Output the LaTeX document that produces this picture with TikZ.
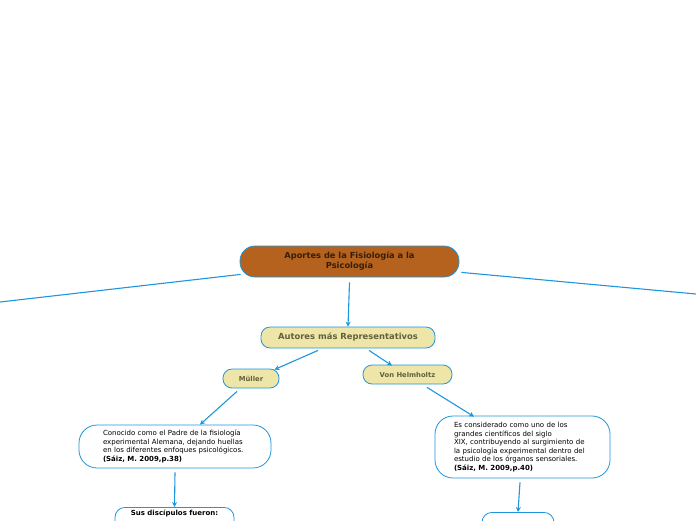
\documentclass[tikz,border=0pt]{standalone}
\usepackage{fontspec}
\setmainfont{DejaVu Sans}
\usetikzlibrary{calc,arrows.meta}
\definecolor{linkblue}{RGB}{30,150,222}
\definecolor{rootbrown}{RGB}{180,98,30}
\definecolor{roottext}{RGB}{55,30,8}
\definecolor{autorfill}{RGB}{237,230,168}
\definecolor{autortext}{RGB}{100,96,62}
\tikzset{
	link/.style={draw=linkblue,line width=1.1pt},
	arrowlink/.style={link,-{Stealth[length=5pt,width=5pt]}},
	rootbox/.style={draw=linkblue,line width=0.8pt,fill=rootbrown,rounded corners=15pt,minimum width=219pt,minimum height=31pt,text=roottext,font=\fontsize{8.3}{10}\selectfont\bfseries,align=center,inner sep=0pt},
	autorbox/.style={draw=linkblue,line width=0.8pt,fill=autorfill,rounded corners=9pt,text=autortext,inner sep=0pt},
	notebox/.style={draw=linkblue,line width=0.8pt,fill=white,rounded corners=18pt,align=left,font=\fontsize{7}{8.5}\selectfont,inner sep=0pt},
}
\begin{document}
\begin{tikzpicture}[x=1pt,y=-1pt]
				\useasboundingbox (0,0) rectangle (696,520);
				
				\node[rootbox] (root) at (349.5,261.5) {Aportes de la Fisiología a la\\Psicología};
				\coordinate (offleft) at (0,302);
				\coordinate (offright) at (696,294);
				
				\node[autorbox,minimum width=174pt,minimum height=21pt,font=\fontsize{8.4}{10}\selectfont\bfseries] (autores) at (348,337.5) {Autores más Representativos};
				\node[autorbox,minimum width=56pt,minimum height=19pt,font=\fontsize{6.8}{8}\selectfont\bfseries] (muller) at (251,378.5) {Müller};
				\node[autorbox,minimum width=89pt,minimum height=19pt,font=\fontsize{6.8}{8}\selectfont\bfseries] (helm) at (407.5,374.5) {Von Helmholtz};
				
				\node[notebox,minimum width=192pt,minimum height=43pt,text width=144pt] (conocido) at (175,446.5) {Conocido como el Padre de la fisiología\\experimental Alemana, dejando huellas\\en los diferentes enfoques psicológicos.\\\textbf{(Sáiz, M. 2009,p.38)}};
				\node[notebox,minimum width=175pt,minimum height=62pt,text width=137pt] (considerado) at (522.5,447) {Es considerado como uno de los\\grandes científicos del siglo\\XIX, contribuyendo al surgimiento de\\la psicología experimental dentro del\\estudio de los órganos sensoriales.\\\textbf{(Sáiz, M. 2009,p.40)}};
				
				\node[notebox,rounded corners=10pt,anchor=north,minimum width=119pt,minimum height=26pt,align=center,font=\fontsize{7}{8}\selectfont\bfseries] (discipulos) at (174.5,507) {Sus discípulos fueron:\\[8pt]};
				\node[notebox,rounded corners=10pt,anchor=north,minimum width=72pt,minimum height=26pt] (helmnext) at (518,512) {};
				
				% enlaces
				\draw[link] ($(root.south west)+(1,-3)$) -- (offleft);
				\draw[link] ($(root.south east)+(2,-5)$) -- (offright);
				\draw[arrowlink] ($(root.south)+(0,5)$) -- (autores.north);
				\draw[arrowlink] ($(autores.south)+(-30,2)$) -- ($(muller.north east)+(-5,1)$);
				\draw[arrowlink] ($(autores.south)+(21,2)$) -- ($(helm.north)+(-15.5,1)$);
				\draw[arrowlink] ($(muller.south)+(-14,3)$) -- ($(conocido.north)+(25,0)$);
				\draw[arrowlink] ($(conocido.south)+(0,4)$) -- (discipulos.north);
				\draw[arrowlink] ($(helm.south)+(19.5,3)$) -- ($(considerado.north)+(-48.5,1)$);
				\draw[arrowlink] ($(considerado.south)+(-2.5,4)$) -- (helmnext.north);
			\end{tikzpicture}
\end{document}
